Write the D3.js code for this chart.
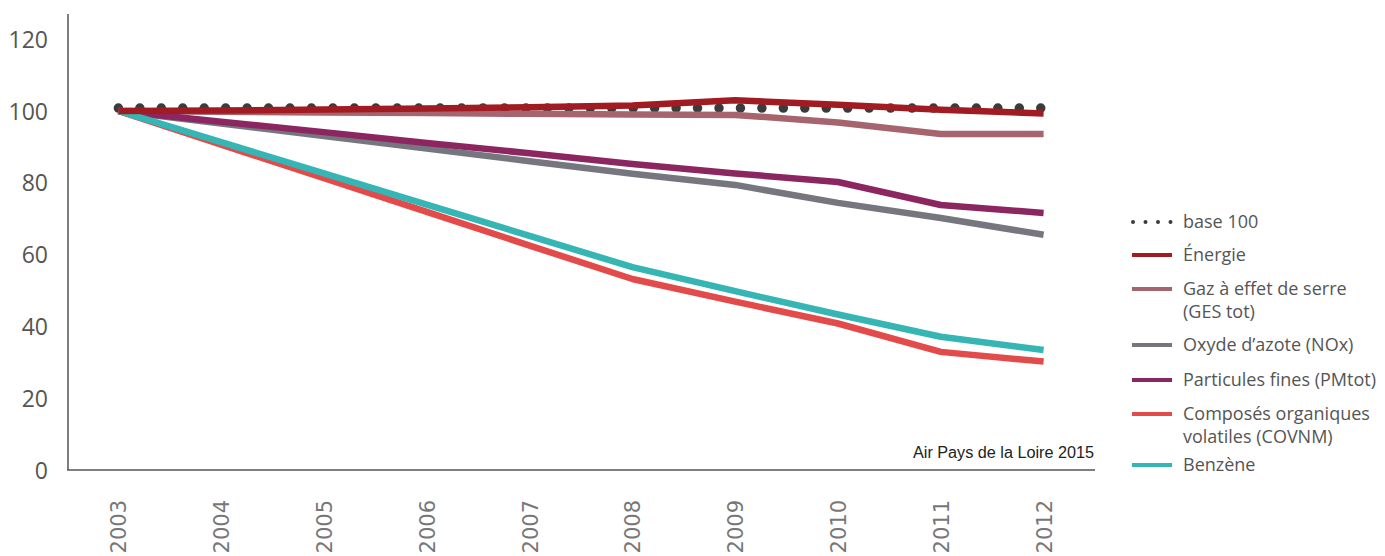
<!DOCTYPE html>
<head lang="fr">
<meta charset="utf-8">
<title>Evolution des emissions, base 100 en 2003</title>
<style>
body { margin:0; background:#fff; }
* { font-family:"Open Sans","sans-serif"; }
</style>
<script src="https://cdn.jsdelivr.net/npm/d3@7"></script>
</head>
<body>
<script>
// Emissions indices, base 100 = 2003
var years   = ["2003","2004","2005","2006","2007","2008","2009","2010","2011","2012"];
var base100 = [100.8,100.8,100.8,100.8,100.8,100.8,100.8,100.8,100.8,100.8];
var energie = [100,100.1,100.4,100.7,101,101.5,103,101.7,100.3,99.3];
var ges     = [100,99.8,99.6,99.4,99.2,99,98.9,96.8,93.6,93.6];
var nox     = [100,96.5,93,89.5,86,82.5,79.4,74.4,70.2,65.5];
var pm      = [100,97,94.1,91.1,88.2,85.2,82.6,80.2,73.8,71.6];
var covnm   = [100,90.6,81.3,71.9,62.5,53.2,46.9,40.8,32.9,30.2];
var benzene = [100,91.3,82.6,73.9,65.2,56.5,49.8,43.3,37.1,33.4];
var yTicks  = [0,20,40,60,80,100,120];

var series = [
    { name: ["base 100"], values: base100, color: "#3b3b3b", dotted: true },
    { name: ["Énergie"], values: energie, color: "#a01c22" },
    { name: ["Gaz à effet de serre", "(GES tot)"], values: ges, color: "#a6646f" },
    { name: ["Oxyde d\u2019azote (NOx)"], values: nox, color: "#76767f" },
    { name: ["Particules fines (PMtot)"], values: pm, color: "#8c2660" },
    { name: ["Composés organiques", "volatiles (COVNM)"], values: covnm, color: "#e34a4a" },
    { name: ["Benzène"], values: benzene, color: "#35b5b4" }
];
// drawing order (last on top)
var drawOrder = [0, 2, 3, 4, 5, 6, 1];

var width = 1385,
    height = 556;

var svg = d3.select("body").append("svg")
    .attr("width", width)
    .attr("height", height);

var x = d3.scalePoint().domain(years).range([67, 1095]).padding(0.5);
var y = d3.scaleLinear().domain([0, 127]).range([470, 14]);

// axes lines
svg.append("line")
    .attr("x1", 68).attr("x2", 68)
    .attr("y1", y(127)).attr("y2", y(0))
    .style("stroke", "#555").style("stroke-width", 1.5);
svg.append("line")
    .attr("x1", 67).attr("x2", 1095)
    .attr("y1", y(0)).attr("y2", y(0))
    .style("stroke", "#555").style("stroke-width", 1.5);

// y tick labels
var yAxis = svg.append("g")
    .attr("transform", "translate(48,0)")
    .call(d3.axisLeft(y).tickValues(yTicks).tickSize(0).tickPadding(0));
yAxis.select(".domain").remove();
yAxis.selectAll("text")
    .attr("dy", "0.35em")
    .style("font-family", "Open Sans")
    .style("font-size", "23px")
    .style("fill", "#555");

// x tick labels, rotated
var xAxis = svg.append("g")
    .attr("transform", "translate(0," + y(0) + ")")
    .call(d3.axisBottom(x).tickSize(0).tickPadding(0));
xAxis.select(".domain").remove();
xAxis.selectAll("text")
    .attr("transform", "translate(0,30) rotate(-90)")
    .attr("text-anchor", "end")
    .attr("x", 0).attr("y", 0)
    .attr("dy", "0.36em")
    .style("font-family", "DejaVu Sans")
    .style("font-size", "21px")
    .style("fill", "#777");

var line = d3.line()
    .x(function(d, i) { return x(years[i]); })
    .y(function(d) { return y(d); });

drawOrder.forEach(function(k) {
    var s = series[k];
    var p = svg.append("path")
        .attr("d", line(s.values))
        .style("fill", "none")
        .style("stroke", s.color);
    if (s.dotted) {
        p.style("stroke-width", 9.5)
         .style("stroke-linecap", "round")
         .style("stroke-dasharray", "0,21.45");
    } else {
        p.style("stroke-width", 6.5)
         .style("stroke-linejoin", "round");
    }
});

// source
svg.append("text")
    .attr("x", 1094).attr("y", 458)
    .attr("text-anchor", "end")
    .attr("textLength", 181)
    .attr("lengthAdjust", "spacingAndGlyphs")
    .style("font-family", "Liberation Sans Narrow, Liberation Sans")
    .style("font-size", "16px")
    .style("fill", "#222")
    .text("Air Pays de la Loire 2015");

// legend
var legendY = [222, 255, 289, 345, 380, 414, 465];
var legend = svg.selectAll(".legend")
    .data(series)
    .enter()
    .append("g")
        .attr("class", "legend")
        .attr("transform", function(d, i) { return "translate(1132," + legendY[i] + ")"; });

legend.append("line")
    .attr("x1", function(d) { return d.dotted ? 1 : 0; })
    .attr("x2", 40)
    .style("stroke", function(d) { return d.color; })
    .style("stroke-width", 4)
    .style("stroke-linecap", function(d) { return d.dotted ? "round" : "butt"; })
    .style("stroke-dasharray", function(d) { return d.dotted ? "0,12.5" : null; });

legend.each(function(d) {
    var t = d3.select(this).append("text")
        .attr("x", 51)
        .attr("y", 0)
        .style("font-size", "18px")
        .style("fill", "#555");
    d.name.forEach(function(n, j) {
        t.append("tspan")
            .attr("x", 51)
            .attr("dy", j === 0 ? "0.35em" : "23px")
            .text(n);
    });
});
</script>
</body>
</html>
